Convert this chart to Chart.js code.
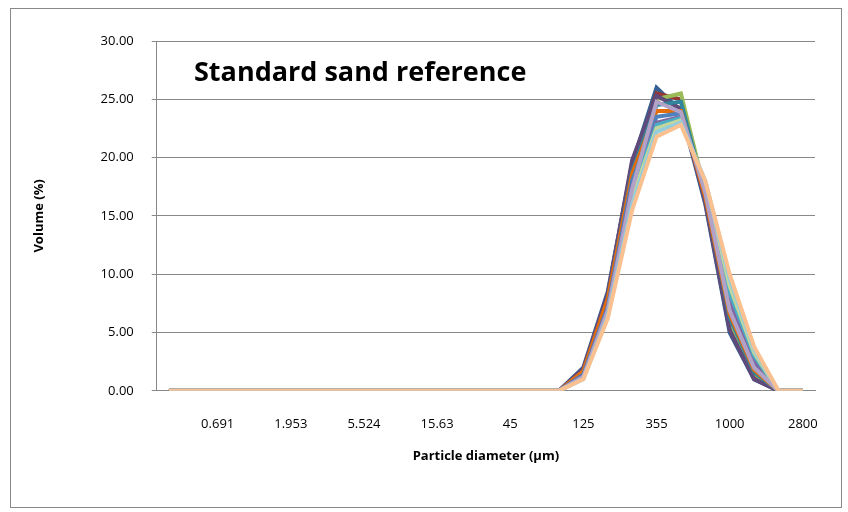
<!DOCTYPE html>
<html><head><meta charset="utf-8">
<script src="https://cdn.jsdelivr.net/npm/chart.js@4/dist/chart.umd.min.js"></script>
<style>html,body{margin:0;background:#fff}#w{position:absolute;left:10px;top:8px;width:832px;height:500px;border:1px solid #888;box-sizing:border-box}</style>
</head><body><div id="w"><canvas id="c" width="830" height="498"></canvas></div>
<script>
const categories=["0.345","0.489","0.691","0.977","1.381","1.953","2.762","3.906","5.524","7.812","11.05","15.63","22.1","31.25","45","62.5","88.39","125","176.8","250","355","500","707","1000","1414","2000","2800"];
const Z=[0,0,0,0,0,0,0,0,0,0,0,0,0,0,0,0];
const s1=[...Z,0,2.0,8.5,19.5,26.0,24.0,16.0,5.0,1.0,0,0];
const s2=[...Z,0,1.8,8.0,19.0,25.5,25.0,16.5,5.5,1.2,0,0];
const s3=[...Z,0,1.5,7.5,18.5,25.0,25.5,17.0,6.0,1.5,0,0];
const s4=[...Z,0,1.9,8.3,19.8,25.3,24.2,16.2,5.2,1.0,0,0];
const s5=[...Z,0,1.6,7.8,18.8,24.5,24.8,16.8,6.3,1.6,0,0];
const s6=[...Z,0,1.7,7.9,18.6,24.0,24.0,16.6,6.6,1.8,0,0];
const s7=[...Z,0,1.4,7.2,18.0,23.5,23.8,17.2,7.2,2.2,0,0];
const s8=[...Z,0,1.3,7.0,17.5,23.0,23.5,17.4,7.8,2.6,0,0];
const s9=[...Z,0,1.2,6.8,17.0,22.8,23.4,17.6,8.4,3.0,0,0];
const s10=[...Z,0,1.1,6.6,16.5,22.5,23.2,17.8,9.0,3.3,0,0];
const s11=[...Z,0,1.2,6.9,17.3,24.8,23.9,17.0,6.9,2.0,0,0];
const s12=[...Z,0,1.0,6.4,16.0,22.2,23.0,18.0,9.6,3.6,0,0];
const s13=[...Z,0,1.0,6.2,15.5,21.8,22.8,18.0,10.0,3.8,0,0];
const series=[s1,s2,s3,s4,s5,s6,s7,s8,s9,s10,s11,s12,s13];
const colors=["#376092","#953735","#9BBB59","#604A7B","#31859C","#E46C0A","#4F81BD","#8064A2","#4BACC6","#C3D69B","#B3A2C7","#93CDDD","#FAC090"];
const yTicks=[0,5,10,15,20,25,30];
new Chart(document.getElementById('c'),{type:'line',
data:{labels:categories,datasets:series.map((d,i)=>({data:d,order:series.length-i,borderColor:colors[i],borderWidth:4,pointRadius:0,tension:0,fill:false}))},
options:{responsive:false,animation:false,
layout:{padding:{left:16,right:26,top:32,bottom:39}},
plugins:{legend:{display:false},tooltip:{enabled:false},title:{display:false}},
scales:{
x:{offset:true,grid:{display:false},border:{color:'#888'},
ticks:{autoSkip:false,maxRotation:0,color:'#000',padding:18,font:{family:'Open Sans',size:13},callback:(v,i)=>i%3==2?categories[i]:''},
title:{display:true,text:'Particle diameter (µm)',color:'#000',font:{family:'Open Sans',size:13,weight:'bold'},padding:{top:-2,bottom:4}}},
y:{min:0,max:30,afterBuildTicks:a=>{a.ticks=yTicks.map(v=>({value:v}))},grid:{color:'#888',tickLength:5},border:{color:'#888'},
ticks:{color:'#000',padding:18,font:{family:'Open Sans',size:13},callback:v=>v.toFixed(2)},
title:{display:true,text:'Volume (%)',color:'#000',font:{family:'Open Sans',size:13,weight:'bold'},padding:{bottom:36}}}}},
plugins:[{id:'t',afterDraw(c){const x=c.ctx;x.save();x.font='bold 27px "Open Sans"';x.fillStyle='#000';x.fillText('Standard sand reference',183,72);x.restore();}}]
});
</script></body></html>
